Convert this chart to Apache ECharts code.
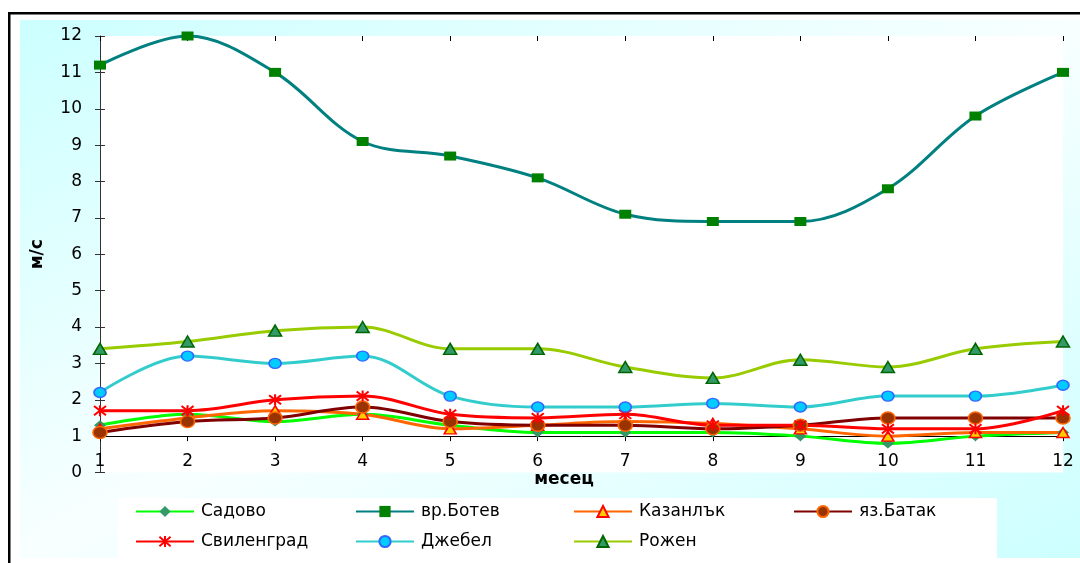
<!DOCTYPE html>
<html>
<head>
<meta charset="utf-8">
<script src="https://cdn.jsdelivr.net/npm/echarts@6/dist/echarts.min.js"></script>
<style>
  html, body { margin: 0; padding: 0; background: #fff; }
  #chart { width: 1080px; height: 563px; }
</style>
</head>
<body>
<div id="chart"></div>
<script>
// Months on the category axis
const months = ['1', '2', '3', '4', '5', '6', '7', '8', '9', '10', '11', '12'];

// Mean monthly wind speed, m/s, per station
const sadovo     = [1.3, 1.6, 1.4, 1.6, 1.3, 1.1, 1.1, 1.1, 1.0, 0.8, 1.0, 1.1];
const botev      = [11.2, 12.0, 11.0, 9.1, 8.7, 8.1, 7.1, 6.9, 6.9, 7.8, 9.8, 11.0];
const kazanlak   = [1.2, 1.5, 1.7, 1.6, 1.2, 1.3, 1.4, 1.35, 1.2, 1.0, 1.1, 1.1];
const batak      = [1.1, 1.4, 1.5, 1.8, 1.4, 1.3, 1.3, 1.2, 1.3, 1.5, 1.5, 1.5];
const svilengrad = [1.7, 1.7, 2.0, 2.1, 1.6, 1.5, 1.6, 1.3, 1.3, 1.2, 1.2, 1.7];
const dzhebel    = [2.2, 3.2, 3.0, 3.2, 2.1, 1.8, 1.8, 1.9, 1.8, 2.1, 2.1, 2.4];
const rozhen     = [3.4, 3.6, 3.9, 4.0, 3.4, 3.4, 2.9, 2.6, 3.1, 2.9, 3.4, 3.6];

// The month axis crosses the value axis at this speed
const xAxisCross = 1;
const yMin = 0, yMax = 12;

const FONT = 'DejaVu Sans';
const chart = echarts.init(document.getElementById('chart'), null, { renderer: 'canvas' });

const asterisk = 'path://M0,0L10,10M10,0L0,10M5,-1L5,11';

function line(name, data, color, symbol, size, fill, border, borderWidth) {
  return {
    name: name,
    type: 'line',
    data: data,
    xAxisIndex: 0,
    yAxisIndex: 0,
    smooth: 0.35,
    showAllSymbol: true,
    symbol: symbol,
    symbolSize: size,
    lineStyle: { color: color, width: 3 },
    itemStyle: { color: fill, borderColor: border, borderWidth: borderWidth },
    emphasis: { disabled: true },
    animation: false
  };
}

const series = [
  line('Садово', sadovo, '#00ff00', 'diamond', [12, 10], '#339966', '#339966', 0),
  line('вр.Ботев', botev, '#008080', 'rect', [12, 9], '#008000', '#008000', 0),
  line('Казанлък', kazanlak, '#ff6600', 'triangle', [12, 10], '#ffcc00', '#ff0000', 1.5),
  line('яз.Батак', batak, '#800000', 'circle', [14, 12], '#993300', '#ff6600', 1.5),
  line('Свиленград', svilengrad, '#ff0000', asterisk, [12, 11], '#ff0000', '#ff0000', 2),
  line('Джебел', dzhebel, '#33cccc', 'circle', [12, 10], '#00ccff', '#3366ff', 1.5),
  line('Рожен', rozhen, '#99cc00', 'triangle', [13, 11], '#339966', '#006600', 1.5)
];

// Legend: two rows, four fixed columns
const colX = [135, 355, 573, 793];
const rowY = [503, 533];
const legends = series.map(function (s, i) {
  return {
    data: [s.name],
    left: colX[i % 4],
    top: rowY[Math.floor(i / 4)],
    itemWidth: 58,
    itemHeight: 14,
    padding: 0,
    selectedMode: false,
    textStyle: { fontFamily: FONT, fontSize: 17, color: '#000', padding: [0, 0, 0, 2] }
  };
});

// Plot area geometry
const plotLeft = 100, plotRight = 17, plotTop = 36, plotBottom = 90.5;
const plotHeight = 563 - plotTop - plotBottom;
// Height of the helper grid whose bottom edge sits at the crossing value
const crossHeight = plotHeight * (yMax - xAxisCross) / (yMax - yMin);

const axisLabelStyle = { color: '#000', fontSize: 17, fontFamily: FONT };

chart.setOption({
  animation: false,
  textStyle: { fontFamily: FONT },
  graphic: [
    {
      type: 'rect', z: -20, silent: true,
      shape: { x: 20, y: 20, width: 1070, height: 538 },
      style: {
        fill: new echarts.graphic.LinearGradient(339, -140.5, 771, 718.5, [
          { offset: 0, color: '#ccffff' },
          { offset: 0.5, color: '#f8ffff' },
          { offset: 1, color: '#ccffff' }
        ], true)
      }
    },
    {
      type: 'rect', z: -20, silent: true,
      shape: { x: 9.25, y: 13.25, width: 1200, height: 700 },
      style: { fill: 'none', stroke: '#000', lineWidth: 2.5 }
    },
    {
      type: 'rect', z: -10, silent: true,
      shape: { x: 118, y: 498, width: 879, height: 61 },
      style: { fill: '#ffffff' }
    },
    {
      type: 'text', z: 10, silent: true,
      style: {
        x: 564, y: 480, text: 'месец', align: 'center', verticalAlign: 'middle',
        font: 'bold 17px "' + FONT + '"', fill: '#000'
      }
    }
  ],
  grid: [
    {
      left: plotLeft, right: plotRight, top: plotTop, bottom: plotBottom,
      show: true, backgroundColor: '#ffffff', borderWidth: 0
    },
    {
      left: plotLeft, right: plotRight, top: plotTop, height: crossHeight,
      show: false
    }
  ],
  legend: legends,
  xAxis: [
    {
      gridIndex: 0, type: 'category', data: months, boundaryGap: false, show: false
    },
    {
      gridIndex: 1, type: 'category', data: months, boundaryGap: false,
      axisLine: { show: true, onZero: false, lineStyle: { color: '#000', width: 1 } },
      axisTick: { show: true, length: 5, lineStyle: { color: '#000' } },
      axisLabel: Object.assign({ margin: 17 }, axisLabelStyle),
      splitLine: { show: false }
    },
    {
      gridIndex: 1, type: 'category', data: months, boundaryGap: false,
      axisLine: { show: false, onZero: false },
      axisTick: { show: true, inside: true, length: 5, lineStyle: { color: '#000' } },
      axisLabel: { show: false },
      splitLine: { show: false }
    }
  ],
  yAxis: [
    {
      gridIndex: 0, type: 'value', min: yMin, max: yMax, interval: 1,
      name: 'м/с', nameLocation: 'middle', nameRotate: 90, nameGap: 54,
      nameTextStyle: { fontFamily: FONT, fontSize: 17, fontWeight: 'bold', color: '#000' },
      axisLine: { show: true, onZero: false, lineStyle: { color: '#333', width: 1 } },
      axisTick: { show: true, length: 5, lineStyle: { color: '#333' } },
      axisLabel: Object.assign({ margin: 18 }, axisLabelStyle),
      splitLine: { show: false }
    },
    {
      gridIndex: 0, type: 'value', min: yMin, max: yMax, interval: 1, position: 'left',
      axisLine: { show: false, onZero: false },
      axisTick: { show: true, inside: true, length: 5, lineStyle: { color: '#333' } },
      axisLabel: { show: false },
      splitLine: { show: false }
    },
    {
      gridIndex: 1, type: 'value', min: xAxisCross, max: yMax, show: false
    }
  ],
  series: series
});
</script>
</body>
</html>
